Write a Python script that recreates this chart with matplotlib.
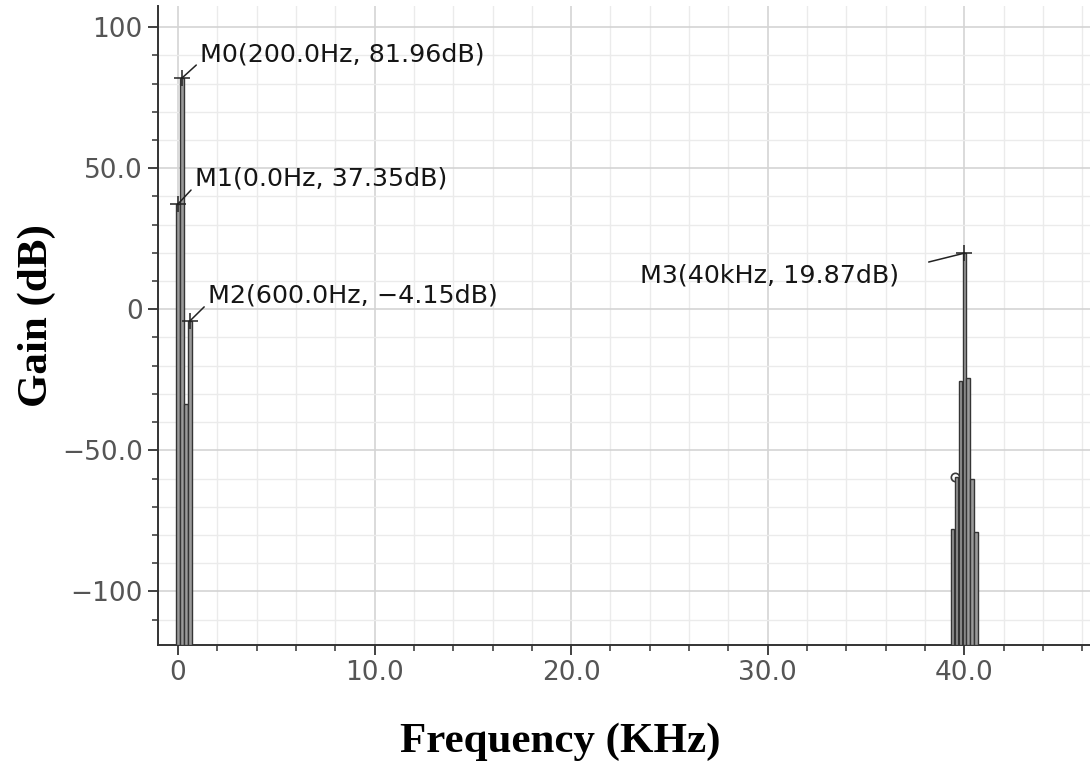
import numpy as np
import matplotlib
matplotlib.use('agg')
import matplotlib.pyplot as plt
from matplotlib.ticker import MultipleLocator, FuncFormatter

plt.rcParams['font.family'] = ['DejaVu Sans']

# spectrum lines (frequency in kHz, gain in dB)
freq_low = [0.0, 0.2, 0.4, 0.6]
gain_low = [37.35, 81.96, -33.5, -4.15]
freq_high = [39.4, 39.6, 39.8, 40.0, 40.2, 40.4, 40.6]
gain_high = [-78.0, -59.5, -25.5, 19.87, -24.5, -60.0, -79.0]

# markers: name, frequency (kHz), gain (dB), frequency text
marker_names = ["M0", "M1", "M2", "M3"]
marker_freq = [0.2, 0.0, 0.6, 40.0]
marker_gain = [81.96, 37.35, -4.15, 19.87]
marker_freq_text = ["200.0Hz", "0.0Hz", "600.0Hz", "40kHz"]

XLIM = (-1.02, 46.4)
YLIM = (-119.0, 107.5)


def fmt_y(v, pos):
    if v == 0:
        s = "0"
    elif abs(v) >= 100:
        s = "%d" % v
    else:
        s = "%.1f" % v
    return s.replace("-", "\u2212")


def fmt_x(v, pos):
    return "0" if v == 0 else "%.1f" % v


fig = plt.figure(figsize=(10.9, 7.7), dpi=100)
ax = fig.add_axes([0.145, 0.1623, 0.855, 0.83])

freqs = np.array(freq_low + freq_high)
gains = np.array(gain_low + gain_high)
ax.bar(freqs, gains - YLIM[0], bottom=YLIM[0], width=0.17,
       facecolor="#9a9a9a", edgecolor="#353535", linewidth=1.0, zorder=3)

# small hollow marker sitting at the 39.6 kHz line
ax.plot(freq_high[1] - 0.05, gain_high[1], marker="o", markersize=6,
        markerfacecolor="none", markeredgecolor="#3a3a3a", markeredgewidth=1.2,
        zorder=2)

ax.plot(marker_freq, marker_gain, linestyle="none", marker="+", markersize=11,
        markeredgewidth=1.1, color="#222222", zorder=4)

# label offsets in points and which corner of the text the leader line hits
offsets = [(13, 17), (12, 18), (13, 18), (-47, -16)]
aligns = ["left", "left", "left", "right"]
relpos = [(0.0, 0.2), (0.0, 0.2), (0.0, 0.2), (1.0, 0.75)]
shrink = [1, 1, 1, 20]
for i, name in enumerate(marker_names):
    label = "%s(%s, %.2fdB)" % (name, marker_freq_text[i], marker_gain[i])
    label = label.replace("-", "\u2212")
    ax.annotate(label, xy=(marker_freq[i], marker_gain[i]),
                xytext=offsets[i], textcoords="offset points",
                ha=aligns[i], va="center", fontsize=18.3, color="#151515",
                arrowprops=dict(arrowstyle="-", color="#222222", lw=1.1,
                                relpos=relpos[i], shrinkA=shrink[i], shrinkB=0),
                zorder=5)

ax.set_xlim(*XLIM)
ax.set_ylim(*YLIM)
ax.xaxis.set_major_locator(MultipleLocator(10))
ax.xaxis.set_minor_locator(MultipleLocator(2))
ax.yaxis.set_major_locator(MultipleLocator(50))
ax.yaxis.set_minor_locator(MultipleLocator(10))
ax.xaxis.set_major_formatter(FuncFormatter(fmt_x))
ax.yaxis.set_major_formatter(FuncFormatter(fmt_y))

ax.grid(which="major", color="#d4d4d4", linewidth=1.2, zorder=0)
ax.grid(which="minor", color="#ebebeb", linewidth=1.0, zorder=0)
ax.set_axisbelow(True)

for side in ["top", "right"]:
    ax.spines[side].set_visible(False)
for side in ["left", "bottom"]:
    ax.spines[side].set_color("#333333")
    ax.spines[side].set_linewidth(1.4)

ax.tick_params(which="major", direction="out", length=7, width=1.3,
               color="#333333", labelsize=19, labelcolor="#555555", pad=4)
ax.tick_params(which="minor", direction="out", length=4, width=1.1,
               color="#333333")

ax.set_xlabel("Frequency (KHz)", family="Liberation Serif", weight="bold",
              fontsize=31)
ax.set_ylabel("Gain (dB)", family="Liberation Serif", weight="bold",
              fontsize=31)
ax.xaxis.set_label_coords(0.432, -0.122)
ax.yaxis.set_label_coords(-0.11, 0.515)

fig.savefig("out.png", dpi=100)
